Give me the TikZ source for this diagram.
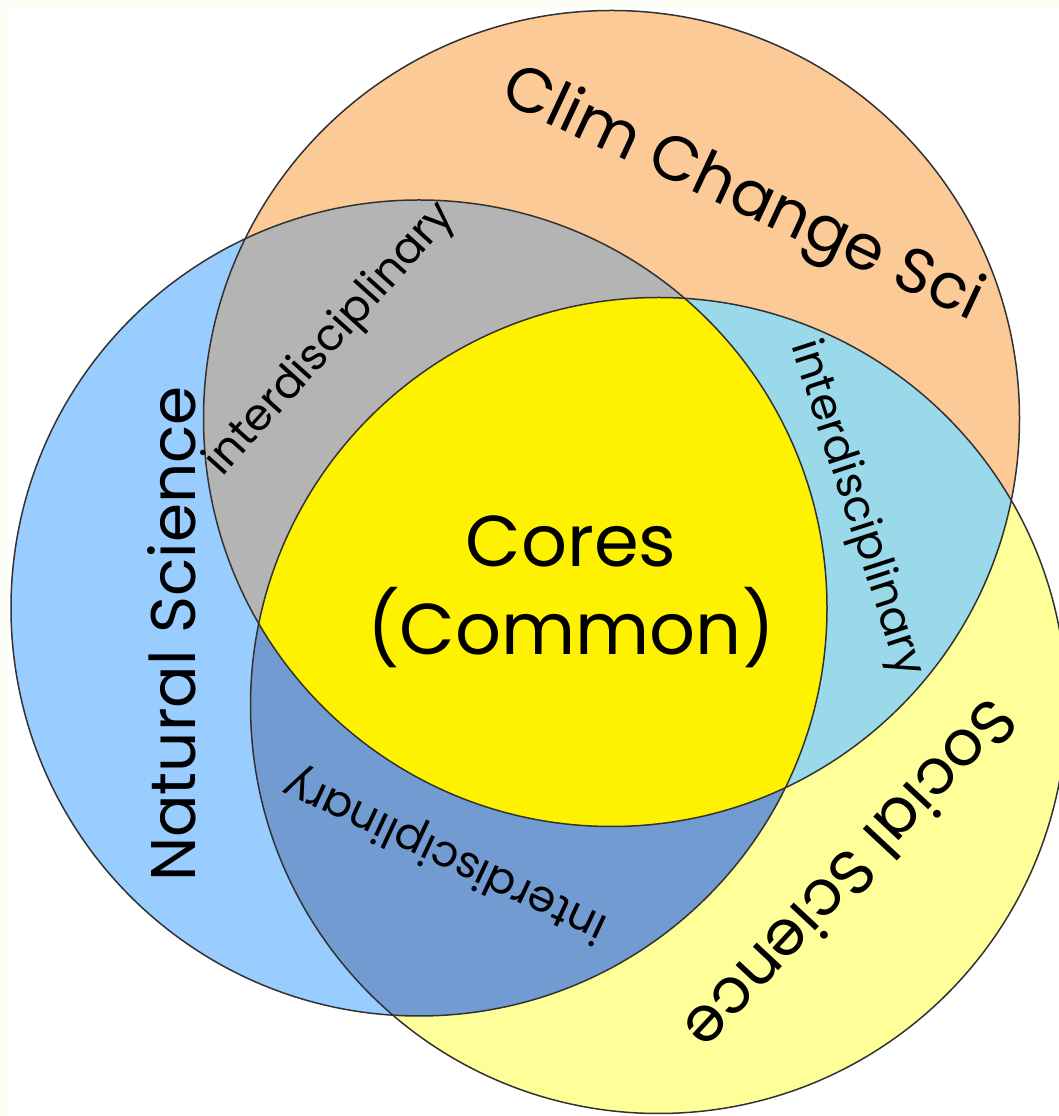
\documentclass[tikz,border=0pt]{standalone}
\usepackage{fontspec}
\setmainfont{Poppins}
\usepackage{tikz}
\definecolor{cream}{RGB}{252,253,245}
\definecolor{ccsfill}{RGB}{252,202,150}
\definecolor{natfill}{RGB}{153,204,255}
\definecolor{socfill}{RGB}{255,255,153}
\definecolor{greyfill}{RGB}{180,180,180}
\definecolor{cyanfill}{RGB}{153,217,234}
\definecolor{dbluefill}{RGB}{114,155,210}
\definecolor{corefill}{RGB}{255,242,0}
\definecolor{ringcol}{RGB}{50,50,50}

\begin{document}
\begin{tikzpicture}[x=1pt,y=1pt,
ring/.style={draw=ringcol, line width=1.5pt},
bigtext/.style={inner sep=0pt, font=\fontsize{63}{70}\selectfont},
coretext/.style={inner sep=0pt, font=\fontsize{72}{80}\selectfont},
inter/.style={inner sep=0pt, font=\fontsize{44}{48}\selectfont}
]
\fill[cream] (0,0) rectangle (1059,1116);
\fill[white] (8,0) rectangle (1059,1108);
\useasboundingbox (0,0) rectangle (1059,1116);

\coordinate (ccs) at (611.5,697.5);
\coordinate (nat) at (419,508);
\coordinate (soc) at (658.5,410.5);

% circles
\fill[ccsfill] (ccs) circle (408);
\fill[natfill] (nat) circle (408);
\fill[socfill] (soc) circle (408);
\begin{scope}
\clip (ccs) circle (408);
\fill[greyfill] (nat) circle (408);
\fill[cyanfill] (soc) circle (408);
\end{scope}
\begin{scope}
\clip (nat) circle (408);
\fill[dbluefill] (soc) circle (408);
\end{scope}
\begin{scope}
\clip (ccs) circle (408);
\clip (nat) circle (408);
\fill[corefill] (soc) circle (408);
\end{scope}
\draw[ring] (ccs) circle (408);
\draw[ring] (nat) circle (408);
\draw[ring] (soc) circle (408);

% labels
\node[bigtext, anchor=base, rotate=-25] (ccslbl) at (735,905) {Clim Change Sci};
\node[bigtext, anchor=base, rotate=90] (natlbl) at (195,482) {Natural Science};
\node[bigtext, rotate=-133] (soclbl) at (852,240) {Social Science};
\node[coretext, anchor=base] (core1) at (571,549) {Cores};
\node[coretext, anchor=base] (core2) at (571,461) {(Common)};
\node[inter, rotate=48] (int1) at (331,776) {interdisciplinary};
\node[inter, rotate=-72] (int2) at (856,607) {interdisciplinary};
\node[inter, rotate=155] (int3) at (446,262) {interdisciplinary};
\end{tikzpicture}
\end{document}
